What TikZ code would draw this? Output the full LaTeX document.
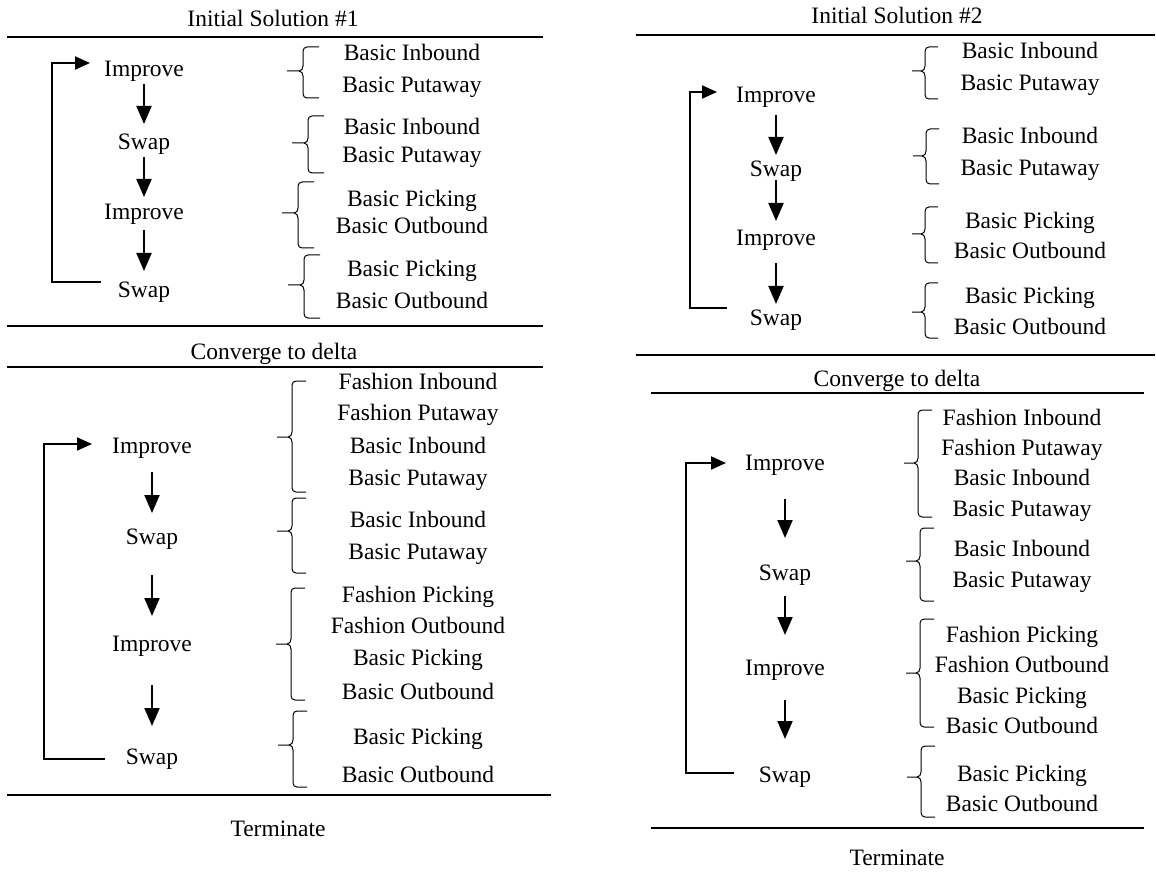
\documentclass[tikz,border=0pt]{standalone}
\usepackage{fontspec}
\setmainfont{Liberation Serif}
\usetikzlibrary{arrows.meta,calc}
\tikzset{
  lbl/.style={font=\fontsize{23.5}{28}\selectfont, inner sep=0pt, text height=15pt, text depth=0pt, anchor=center},
  flow/.style={line width=2pt, -{Triangle[length=18pt,width=15pt]}},
  backloop/.style={line width=2pt, -{Triangle[length=15pt,width=13pt]}},
  rule/.style={line width=1.6pt},
  brc/.style={line width=1pt},
}
% curly brace opening to the right:
% tip x, middle y, top y, bottom y, spine offset, end offset
\newcommand{\cbrace}[6]{%
  \draw[brc] (#1+#6,#3) -- (#1+#5+4,#3) to[out=180,in=90] (#1+#5,#3+4) -- (#1+#5,#2-5)
    to[out=-90,in=0] (#1+#5-4,#2) -- (#1,#2)
    (#1+#5-4,#2) to[out=0,in=90] (#1+#5,#2+5) -- (#1+#5,#4-4) to[out=-90,in=180] (#1+#5+4,#4) -- (#1+#6,#4);}
\begin{document}
\begin{tikzpicture}[x=1pt,y=-1pt]
\useasboundingbox (0,0) rectangle (1156,893);

% ---------------- left column ----------------
\node[lbl] (a-title) at (273,19) {Initial Solution \#1};
\draw[rule] (7,37) -- (543,37);
\draw[rule] (7,326) -- (543,326);

\node[lbl] (a-i1) at (144,69) {Improve};
\node[lbl] (a-s1) at (144,142) {Swap};
\node[lbl] (a-i2) at (144,212) {Improve};
\node[lbl] (a-s2) at (144,290) {Swap};
\draw[flow, shorten <=15pt, shorten >=18pt] (a-i1.center) -- (a-s1.center);
\draw[flow, shorten <=15pt, shorten >=15pt] (a-s1.center) -- (a-i2.center);
\draw[flow, shorten <=18pt, shorten >=19pt] (a-i2.center) -- (a-s2.center);
\draw[backloop] ([shift={(-43,-8)}]a-s2.center) -- ++(-49,0) |- ([shift={(-54,-6)}]a-i1.center);

\cbrace{287}{71}{47}{98}{16}{32}
\cbrace{292}{143}{116}{173}{16}{32}
\cbrace{282}{213}{182}{248}{16}{32}
\cbrace{288}{285}{255}{318}{16}{32}
\node[lbl] (a-t1) at (412,53) {Basic Inbound};
\node[lbl] (a-t2) at (412,85) {Basic Putaway};
\node[lbl] (a-t3) at (412,127) {Basic Inbound};
\node[lbl] (a-t4) at (412,155) {Basic Putaway};
\node[lbl] (a-t5) at (412,199) {Basic Picking};
\node[lbl] (a-t6) at (412,226) {Basic Outbound};
\node[lbl] (a-t7) at (412,269) {Basic Picking};
\node[lbl] (a-t8) at (412,301) {Basic Outbound};

\node[lbl] (b-title) at (274,352) {Converge to delta};
\draw[rule] (7,367) -- (543,367);
\draw[rule] (7,795) -- (551,795);
\node[lbl] (b-end) at (278,829) {Terminate};

\node[lbl] (b-i1) at (152,446) {Improve};
\node[lbl] (b-s1) at (152,537) {Swap};
\node[lbl] (b-i2) at (152,644) {Improve};
\node[lbl] (b-s2) at (152,757) {Swap};
\draw[flow, shorten <=26pt, shorten >=24pt] (b-i1.center) -- (b-s1.center);
\draw[flow, shorten <=38pt, shorten >=28pt] (b-s1.center) -- (b-i2.center);
\draw[flow, shorten <=41pt, shorten >=31pt] (b-i2.center) -- (b-s2.center);
\draw[backloop] ([shift={(-47,2)}]b-s2.center) -- ++(-61,0) |- ([shift={(-60,-2)}]b-i1.center);

\cbrace{277}{437}{381}{492}{15}{29}
\cbrace{277}{531}{498}{573}{15}{29}
\cbrace{276}{644}{588}{700}{15}{29}
\cbrace{278}{745}{711}{787}{15}{29}
\node[lbl] (b-t1) at (418,382) {Fashion Inbound};
\node[lbl] (b-t2) at (418,413) {Fashion Putaway};
\node[lbl] (b-t3) at (418,446) {Basic Inbound};
\node[lbl] (b-t4) at (418,478) {Basic Putaway};
\node[lbl] (b-t5) at (418,520) {Basic Inbound};
\node[lbl] (b-t6) at (418,552) {Basic Putaway};
\node[lbl] (b-t7) at (418,595) {Fashion Picking};
\node[lbl] (b-t8) at (418,626) {Fashion Outbound};
\node[lbl] (b-t9) at (418,658) {Basic Picking};
\node[lbl] (b-t10) at (418,692) {Basic Outbound};
\node[lbl] (b-t11) at (418,737) {Basic Picking};
\node[lbl] (b-t12) at (418,775) {Basic Outbound};

% ---------------- right column ----------------
\node[lbl] (c-title) at (897,16) {Initial Solution \#2};
\draw[rule] (636,35) -- (1155,35);
\draw[rule] (636,355) -- (1155,355);

\node[lbl] (c-i1) at (776,95) {Improve};
\node[lbl] (c-s1) at (776,169) {Swap};
\node[lbl] (c-i2) at (776,238) {Improve};
\node[lbl] (c-s2) at (776,318) {Swap};
\draw[flow, shorten <=20pt, shorten >=14pt] (c-i1.center) -- (c-s1.center);
\draw[flow, shorten <=11pt, shorten >=17pt] (c-s1.center) -- (c-i2.center);
\draw[flow, shorten <=25pt, shorten >=14pt] (c-i2.center) -- (c-s2.center);
\draw[backloop] ([shift={(-49,-10)}]c-s2.center) -- ++(-37,0) |- ([shift={(-59,-3)}]c-i1.center);

\cbrace{912}{71}{47}{99}{13}{26}
\cbrace{913}{156}{129}{184}{13}{26}
\cbrace{912}{234}{207}{263}{13}{26}
\cbrace{912}{312}{283}{338}{13}{26}
\node[lbl] (c-t1) at (1030,51) {Basic Inbound};
\node[lbl] (c-t2) at (1030,83) {Basic Putaway};
\node[lbl] (c-t3) at (1030,136) {Basic Inbound};
\node[lbl] (c-t4) at (1030,168) {Basic Putaway};
\node[lbl] (c-t5) at (1030,221) {Basic Picking};
\node[lbl] (c-t6) at (1030,251) {Basic Outbound};
\node[lbl] (c-t7) at (1030,296) {Basic Picking};
\node[lbl] (c-t8) at (1030,327) {Basic Outbound};

\node[lbl] (d-title) at (897,379) {Converge to delta};
\draw[rule] (651,393) -- (1144,393);
\draw[rule] (651,828) -- (1144,828);
\node[lbl] (d-end) at (897,858) {Terminate};

\node[lbl] (d-i1) at (785,463) {Improve};
\node[lbl] (d-s1) at (785,573) {Swap};
\node[lbl] (d-i2) at (785,668) {Improve};
\node[lbl] (d-s2) at (785,775) {Swap};
\draw[flow, shorten <=36pt, shorten >=35pt] (d-i1.center) -- (d-s1.center);
\draw[flow, shorten <=23pt, shorten >=33pt] (d-s1.center) -- (d-i2.center);
\draw[flow, shorten <=32pt, shorten >=36pt] (d-i2.center) -- (d-s2.center);
\draw[backloop] ([shift={(-51,-2)}]d-s2.center) -- ++(-48,0) |- ([shift={(-59,0)}]d-i1.center);

\cbrace{904}{463}{410}{517}{14}{28}
\cbrace{906}{561}{528}{601}{14}{28}
\cbrace{906}{673}{619}{727}{14}{28}
\cbrace{907}{777}{746}{817}{14}{28}
\node[lbl] (d-t1) at (1022,418) {Fashion Inbound};
\node[lbl] (d-t2) at (1022,448) {Fashion Putaway};
\node[lbl] (d-t3) at (1022,478) {Basic Inbound};
\node[lbl] (d-t4) at (1022,509) {Basic Putaway};
\node[lbl] (d-t5) at (1022,549) {Basic Inbound};
\node[lbl] (d-t6) at (1022,580) {Basic Putaway};
\node[lbl] (d-t7) at (1022,635) {Fashion Picking};
\node[lbl] (d-t8) at (1022,665) {Fashion Outbound};
\node[lbl] (d-t9) at (1022,696) {Basic Picking};
\node[lbl] (d-t10) at (1022,726) {Basic Outbound};
\node[lbl] (d-t11) at (1022,774) {Basic Picking};
\node[lbl] (d-t12) at (1022,804) {Basic Outbound};
\end{tikzpicture}
\end{document}
